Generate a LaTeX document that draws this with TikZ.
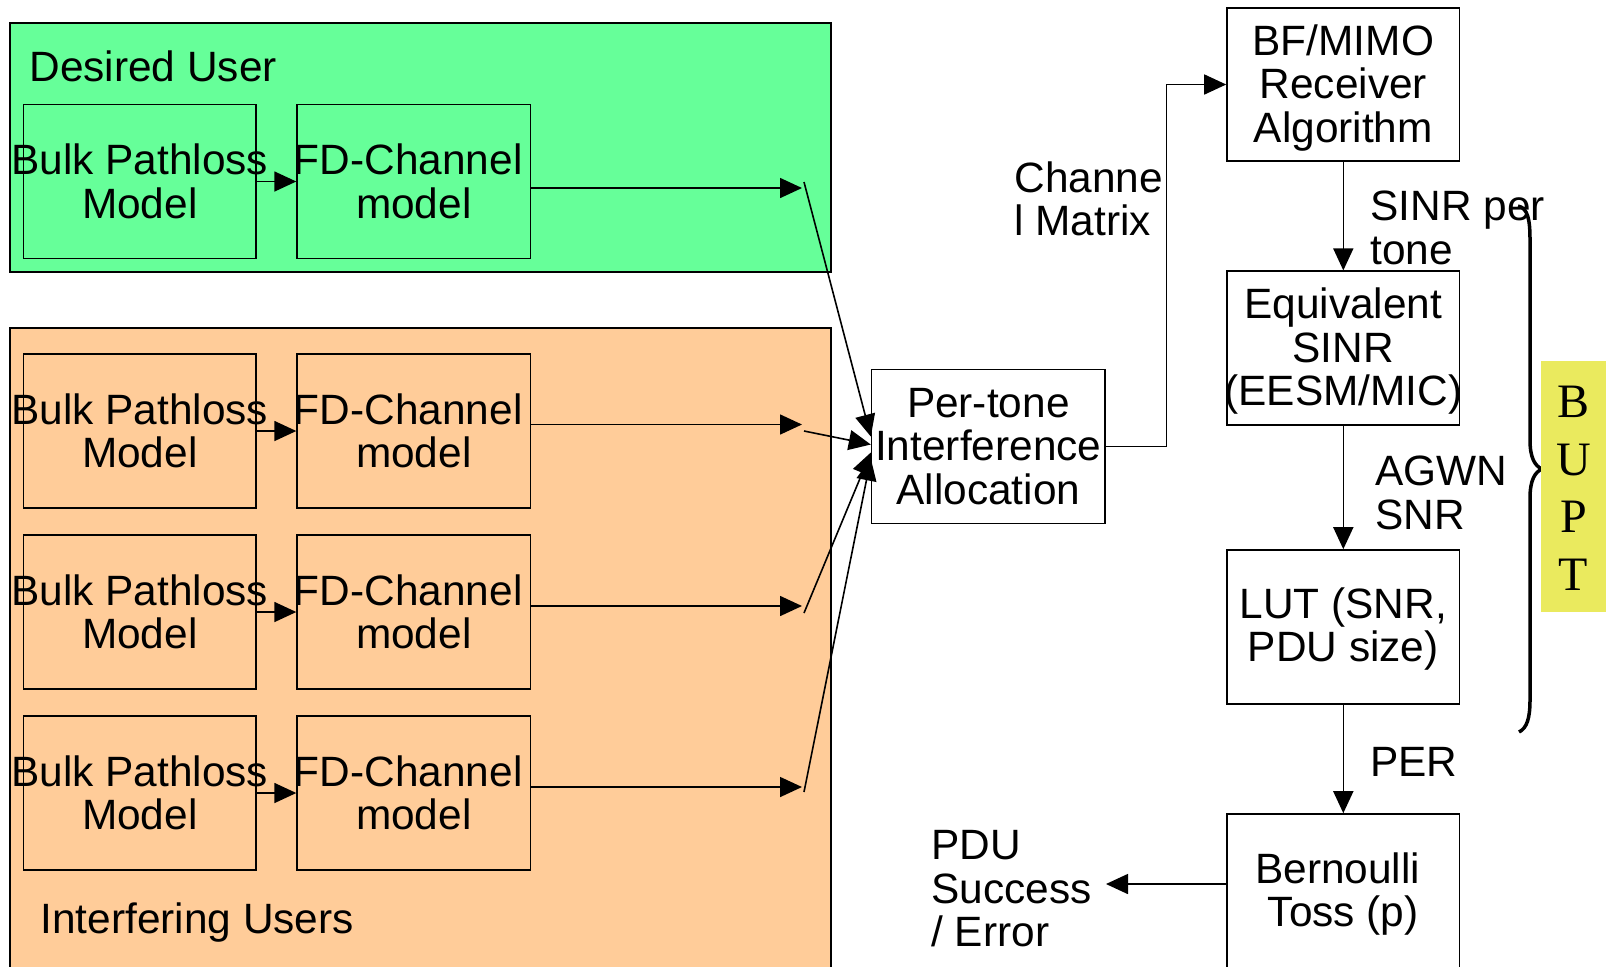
\documentclass[tikz,border=0pt]{standalone}
\usepackage{fontspec}
\setmainfont{Liberation Sans}
\newfontfamily\bupttimes{Liberation Serif}
\usetikzlibrary{arrows.meta,calc}
\definecolor{dgreen}{RGB}{102,255,153}
\definecolor{dorange}{RGB}{255,204,153}
\definecolor{dyellow}{RGB}{234,234,94}
\newcommand{\zw}[1]{\makebox[0pt]{#1}}
\newcommand{\tp}{\rule{0pt}{18.5pt}}
\begin{document}
\begin{tikzpicture}[x=0.5pt,y=-0.5pt,
  font=\fontsize{21.2pt}{21.8pt}\selectfont,
  arr/.style={-{Triangle[length=11pt,width=10pt]}, line width=0.8pt},
  box/.style={draw, line width=0.8pt, inner sep=0pt, align=center, minimum width=116.3pt, minimum height=77pt},
  lbl/.style={inner sep=0pt, align=left, anchor=west},
  group/.style={draw, line width=0.9pt}]
\useasboundingbox (0,0) rectangle (1606,966);
\clip (0,0) rectangle (1606,966);
\fill[white] (0,0) rectangle (1606,966);
% user groups
\draw[group, fill=dgreen] (10,23) rectangle (831,272);
\draw[group, fill=dorange] (10,328) rectangle (831,1000);
\node[inner sep=0pt, anchor=base west] (du) at (29,81) {Desired User};
\node[inner sep=0pt, anchor=base west] (iu) at (40,933) {Interfering Users};
% rows
\foreach \i/\y in {1/181.5, 2/431, 3/612, 4/793} {
  \node[box] (b\i) at (139.8,\y) {\zw{Bulk Pathloss}\\\zw{Model}};
  \node[box, minimum width=116.7pt] (f\i) at (413.8,\y) {\zw{FD-Channel\hspace{5.6pt}}\\\zw{model}};
  \draw[arr] (b\i) -- (f\i);
}
\coordinate (e1) at (802,188);
\coordinate (e2) at (802,424.5);
\coordinate (e3) at (802,606);
\coordinate (e4) at (802,787);
\coordinate (s1) at (804,182);
\coordinate (s2) at (804,431);
\coordinate (s3) at (804,613);
\coordinate (s4) at (804,792);
\foreach \i in {1,2,3,4} {
  \draw[arr] (f\i.east |- e\i) -- (e\i);
}
% per-tone
\node[box, minimum width=116.7pt, minimum height=76.9pt] (pt) at (988.3,446.5) {\zw{Per-tone}\\\zw{Interference}\\\zw{Allocation}};
\draw[arr] (s1) -- ($(pt.west)+(0,-10)$);
\draw[arr] (s2) -- ($(pt.west)+(0,-2)$);
\draw[arr] (s3) -- ($(pt.west)+(0,6)$);
\draw[arr] (s4) -- ($(pt.west)+(0,12)$);
% right column
\node[box, minimum height=76.3pt] (bf) at (1343.3,84.5) {\zw{\tp BF/MIMO}\\\zw{Receiver}\\\zw{Algorithm}};
\node[box] (eq) at (1343.3,348.2) {\zw{\tp Equivalent}\\\zw{SINR}\\\zw{(EESM/MIC)}};
\node[box] (lut) at (1343.3,627) {\zw{\rule{0pt}{17.5pt}LUT (SNR,}\\\zw{PDU size)}};
\node[box] (bern) at (1343.3,891) {\zw{\tp Bernoulli\hspace{5.6pt}}\\\zw{Toss (p)}};
\draw[arr] (pt.east) -- ++(60.5,0) |- (bf.west);
\draw[arr] (bf) -- (eq);
\draw[arr] (eq) -- (lut);
\draw[arr] (lut) -- (bern);
\coordinate (pd) at (1106,884);
\draw[arr] (bern.west |- pd) -- (pd);
% labels
\node[lbl] (cm) at (1014,199) {Channe\\l Matrix};
\node[lbl] (sp) at (1370,228) {SINR per\\tone};
\node[lbl] (ag) at (1375,493) {AGWN\\SNR};
\node[lbl] (per) at (1370,762) {PER};
\node[lbl] (pdu) at (931,889) {PDU\\Success\\/ Error};
% brace and BUPT
\draw[line width=1.75pt] (1518,206) .. controls (1528,208) and (1530,220) .. (1530,240) -- (1530,440) .. controls (1530,458) and (1535,466) .. (1542,469) .. controls (1535,472) and (1530,480) .. (1530,498) -- (1530,700) .. controls (1530,718) and (1527,728) .. (1519,732);
\node[fill=dyellow, minimum width=32.5pt, minimum height=125.5pt, inner sep=0pt, align=center, font=\bupttimes\fontsize{24pt}{28.9pt}\selectfont] (bupt) at (1573.5,486) {\rule{0pt}{18pt}B\\U\\P\\T};
\end{tikzpicture}
\end{document}
